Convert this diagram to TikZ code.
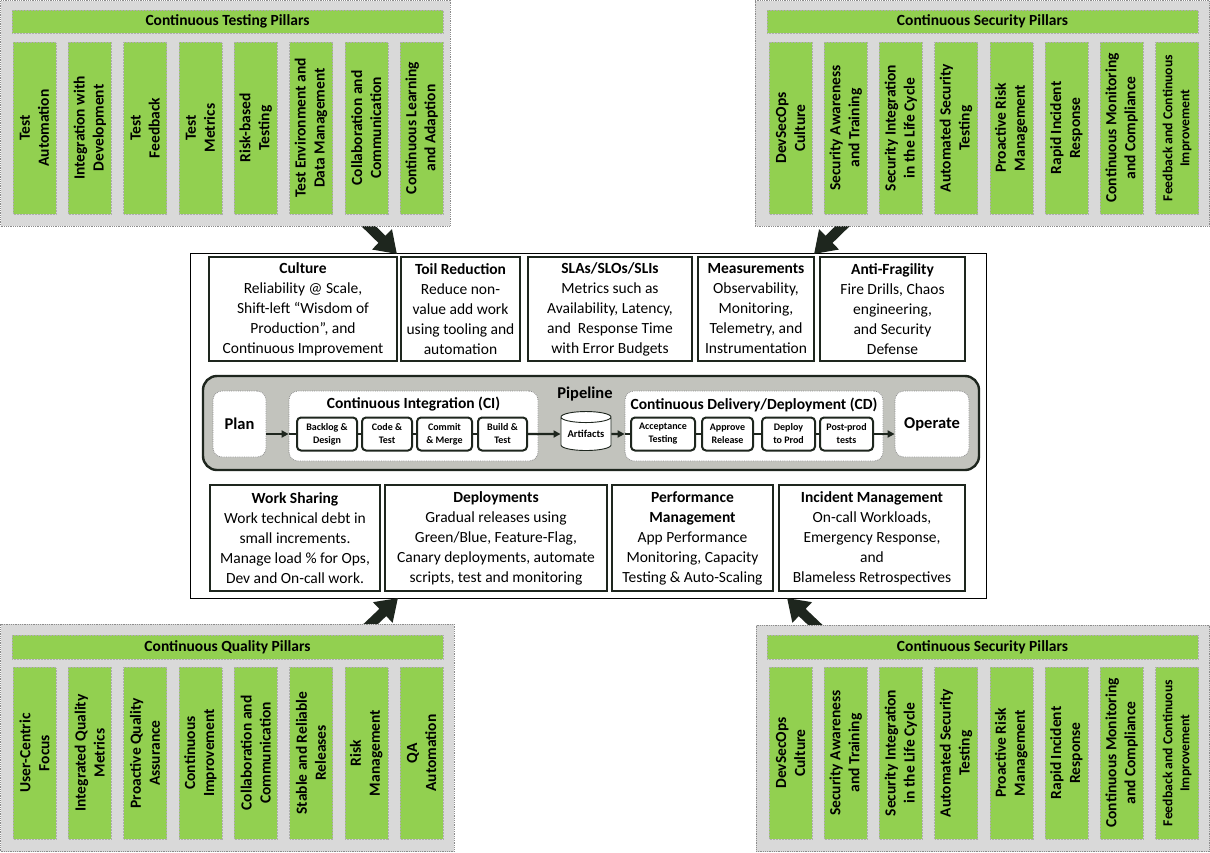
\documentclass[tikz,border=0pt]{standalone}
\usepackage{fontspec}
\setmainfont{Carlito}
\usetikzlibrary{arrows.meta,shapes.geometric}
\definecolor{panelgray}{RGB}{217,217,217}
\definecolor{pgreen}{RGB}{146,208,80}
\definecolor{darkline}{RGB}{30,38,30}
\definecolor{pipegray}{RGB}{194,195,189}
\definecolor{dotgray}{RGB}{140,140,140}
\begin{document}
\begin{tikzpicture}[x=1pt,y=-1pt,
  panel/.style={draw=dotgray, densely dotted, line width=0.8pt, fill=panelgray, inner sep=0pt},
  header/.style={draw=panelgray!80!black, densely dotted, line width=0.5pt, fill=pgreen, minimum width=431pt, minimum height=23pt, inner sep=0pt, font=\fontsize{15.5}{18}\selectfont\bfseries},
  pillar/.style={draw=panelgray!80!black, densely dotted, line width=0.5pt, fill=pgreen, rotate=90, minimum width=172pt, minimum height=43pt, inner sep=0pt, align=center, font=\fontsize{15.5}{19}\selectfont\bfseries},
  mainbox/.style={draw=black, line width=1pt, fill=white, inner sep=0pt},
  infobox/.style={draw=darkline, line width=2.4pt, fill=white, align=center, inner sep=0pt, font=\fontsize{15.5}{20}\selectfont},
  pipebox/.style={draw=darkline, line width=2.4pt, fill=pipegray, rounded corners=14pt, inner sep=0pt},
  stagebox/.style={draw=dotgray, densely dotted, line width=0.8pt, fill=white, rounded corners=9pt, inner sep=0pt},
  bigstage/.style={stagebox, align=center, font=\fontsize{16.5}{19}\selectfont\bfseries},
  stepbox/.style={draw=darkline, line width=2pt, fill=white, rounded corners=4pt, minimum height=33pt, inner sep=0pt, align=center, font=\fontsize{10}{13}\selectfont\bfseries},
  flow/.style={draw=darkline, line width=2.4pt, -{Triangle[length=7pt,width=7pt]}},
  link/.style={draw=darkline, line width=2.4pt},
  bigarrow/.style={draw=darkline, fill=darkline, line width=10pt, -{Triangle[length=21pt,width=27pt]}},
  titletext/.style={inner sep=0pt, font=\fontsize{15.5}{18}\selectfont\bfseries}
]
\useasboundingbox[fill=white] (0,0) rectangle (1210,852);

% ---------- main box ----------
\node[mainbox, minimum width=796pt, minimum height=345pt] (main) at (588,425.5) {};

% top boxes
\node[infobox, minimum width=188pt, minimum height=104pt] (culture) at (303,309) {\textbf{Culture}\\Reliability @ Scale,\\Shift-left “Wisdom of\\Production”, and\\Continuous Improvement};
\node[infobox, minimum width=119pt, minimum height=104pt] (toil) at (460.5,309) {\textbf{Toil Reduction}\\Reduce non-\\value add work\\using tooling and\\automation};
\node[infobox, minimum width=164pt, minimum height=104pt] (slas) at (610,309) {\textbf{SLAs/SLOs/SLIs}\\Metrics such as\\Availability, Latency,\\and~ Response Time\\with Error Budgets};
\node[infobox, minimum width=116pt, minimum height=104pt] (meas) at (756,309) {\textbf{Measurements}\\Observability,\\Monitoring,\\Telemetry, and\\Instrumentation};
\node[infobox, minimum width=145pt, minimum height=104pt] (anti) at (892.5,309) {\textbf{Anti-Fragility}\\Fire Drills, Chaos\\engineering,\\and Security\\Defense};

% bottom boxes
\node[infobox, minimum width=170pt, minimum height=106pt] (work) at (295,538) {\textbf{Work Sharing}\\Work technical debt in\\small increments.\\Manage load \% for Ops,\\Dev and On-call work.};
\node[infobox, minimum width=222pt, minimum height=106pt] (deploy) at (496,538) {\textbf{Deployments}\\Gradual releases using\\Green/Blue, Feature-Flag,\\Canary deployments, automate\\scripts, test and monitoring};
\node[infobox, minimum width=161pt, minimum height=106pt] (perf) at (692.5,538) {\textbf{Performance}\\\textbf{Management}\\App Performance\\Monitoring, Capacity\\Testing \& Auto-Scaling};
\node[infobox, minimum width=186pt, minimum height=106pt] (incident) at (872,538) {\textbf{Incident Management}\\On-call Workloads,\\Emergency Response,\\and\\Blameless Retrospectives};

% pipeline
\node[pipebox, minimum width=776pt, minimum height=94pt] (pipe) at (591,423) {};
\node[titletext, font=\fontsize{16.5}{19}\selectfont\bfseries] (pipelabel) at (585,394) {Pipeline};
\node[bigstage, minimum width=53pt, minimum height=66pt] (plan) at (239.5,424) {Plan};
\node[bigstage, minimum width=74pt, minimum height=66pt] (operate) at (932,424) {Operate};
\node[stagebox, minimum width=249pt, minimum height=70pt] (ci) at (413.5,426) {};
\node[stagebox, minimum width=258pt, minimum height=70pt] (cd) at (754,426) {};
\node[titletext] (cititle) at (413.5,404) {Continuous Integration (CI)};
\node[titletext] (cdtitle) at (754,405) {Continuous Delivery/Deployment (CD)};

\node[stepbox, minimum width=60pt] (backlog) at (327,434) {Backlog \&\\Design};
\node[stepbox, minimum width=50pt] (code) at (387,434) {Code \&\\Test};
\node[stepbox, minimum width=55pt] (commit) at (444.5,434) {Commit\\\& Merge};
\node[stepbox, minimum width=49pt] (build) at (502.5,434) {Build \&\\Test};
\node[stepbox, minimum width=64pt] (accept) at (663,434) {Acceptance\\Testing};
\node[stepbox, minimum width=51pt] (approve) at (727.5,434) {Approve\\Release};
\node[stepbox, minimum width=53pt] (deployprod) at (788.5,434) {Deploy\\to Prod};
\node[stepbox, minimum width=53pt] (postprod) at (846.5,434) {Post-prod\\tests};
\node[draw=darkline, line width=0.9pt, fill=white, cylinder, shape border rotate=90, aspect=0.3, minimum width=50pt, minimum height=39pt, inner sep=0pt, font=\fontsize{10.5}{12}\selectfont\bfseries] (art) at (586,434) {Artifacts};

\draw[flow] (plan.east |- backlog.west) -- (ci.west |- backlog.west);
\draw[link] (ci.west |- backlog.west) -- (backlog.west);
\draw[link] (backlog) -- (code);
\draw[link] (code) -- (commit);
\draw[link] (commit) -- (build);
\draw[flow] (build) -- (art);
\draw[flow] (art) -- (art -| cd.west);
\draw[link] (accept -| cd.west) -- (accept);
\draw[link] (accept) -- (approve);
\draw[link] (approve) -- (deployprod);
\draw[link] (deployprod) -- (postprod);
\draw[flow] (postprod) -- (postprod -| operate.west);

% ---------- big arrows ----------
\coordinate (tlA) at (355,213); \coordinate (tlB) at (397,254);
\coordinate (trA) at (856,213); \coordinate (trB) at (814,254);
\coordinate (blA) at (356,638); \coordinate (blB) at (398,598);
\coordinate (brA) at (829,638); \coordinate (brB) at (787,598);
\draw[bigarrow] (tlA) -- (tlB);
\draw[bigarrow] (trA) -- (trB);
\draw[bigarrow] (blA) -- (blB);
\draw[bigarrow] (brA) -- (brB);

% ---------- panels ----------
\node[panel, minimum width=449.5pt, minimum height=225.5pt] (tlpanel) at (225.25,113.25) {};
\node[panel, minimum width=454.5pt, minimum height=225.5pt] (trpanel) at (982.25,113.25) {};
\node[panel, minimum width=453.5pt, minimum height=227.5pt] (blpanel) at (227.25,737.75) {};
\node[panel, minimum width=453.5pt, minimum height=226.5pt] (brpanel) at (982.75,738.25) {};

\node[header] (tlhead) at (227.5,21.5) {Continuous Testing Pillars};
\node[header] (trhead) at (982.5,21.5) {Continuous Security Pillars};
\node[header, minimum height=24pt] (blhead) at (227.5,647) {Continuous Quality Pillars};
\node[header, minimum height=24pt] (brhead) at (982.5,647) {Continuous Security Pillars};

\foreach \t [count=\i from 0] in {{Test\\Automation},{Integration with\\Development},{Test\\Feedback},{Test\\Metrics},{Risk-based\\Testing},{Test Environment and\\Data Management},{Collaboration and\\Communication},{Continuous Learning\\and Adaption}}
  \node[pillar] (tlp\i) at ({34.5+55.3*\i},128) {\t};

\foreach \t [count=\i from 0] in {{DevSecOps\\Culture},{Security Awareness\\and Training},{Security Integration\\in the Life Cycle},{Automated Security\\Testing},{Proactive Risk\\Management},{Rapid Incident\\Response},{Continuous Monitoring\\and Compliance}}
  \node[pillar] (trp\i) at ({790.5+55.2*\i},128) {\t};
\node[pillar, font=\fontsize{13.7}{17}\selectfont\bfseries] (trp7) at (1177,128) {Feedback and Continuous\\Improvement};

\foreach \t [count=\i from 0] in {{User-Centric\\Focus},{Integrated Quality\\Metrics},{Proactive Quality\\Assurance},{Continuous\\Improvement},{Collaboration and\\Communication},{Stable and Reliable\\Releases},{Risk\\Management},{QA\\Automation}}
  \node[pillar] (blp\i) at ({34.5+55.3*\i},753) {\t};

\foreach \t [count=\i from 0] in {{DevSecOps\\Culture},{Security Awareness\\and Training},{Security Integration\\in the Life Cycle},{Automated Security\\Testing},{Proactive Risk\\Management},{Rapid Incident\\Response},{Continuous Monitoring\\and Compliance}}
  \node[pillar] (brp\i) at ({790.5+55.2*\i},753) {\t};
\node[pillar, font=\fontsize{13.7}{17}\selectfont\bfseries] (brp7) at (1177,753) {Feedback and Continuous\\Improvement};

\end{tikzpicture}
\end{document}
